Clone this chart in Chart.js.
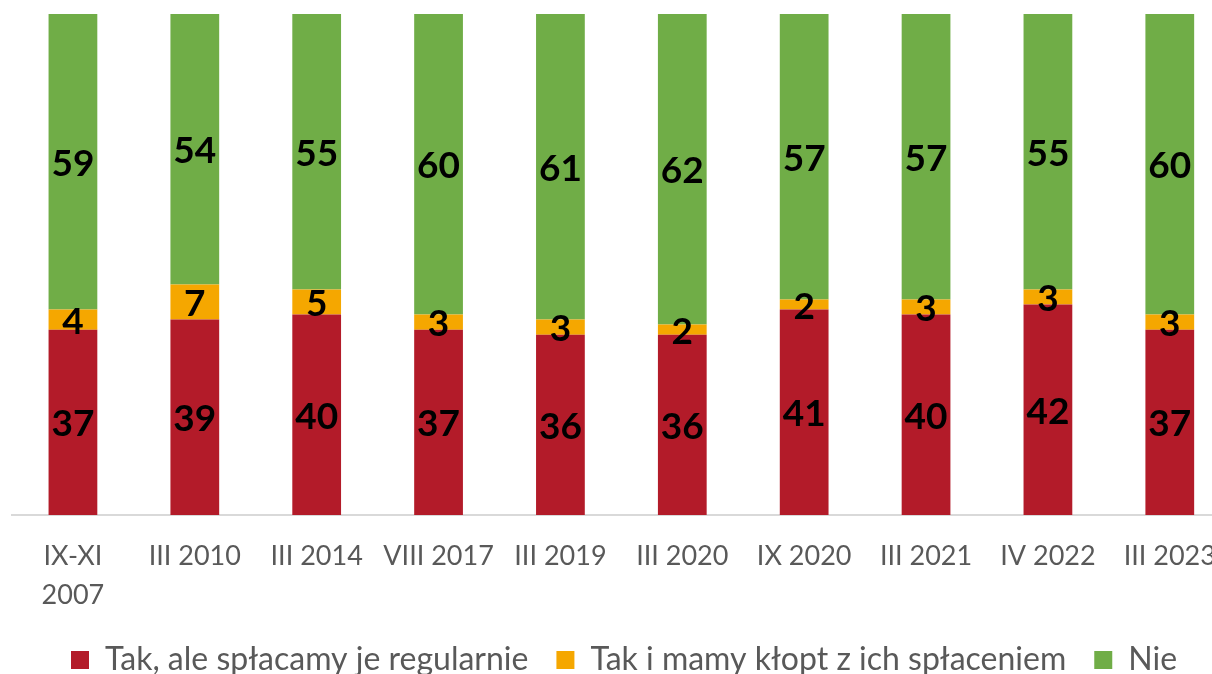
<!DOCTYPE html>
<html lang="pl">
<head>
<meta charset="utf-8">
<title>Kredyty i pożyczki</title>
<script src="https://cdn.jsdelivr.net/npm/chart.js@4.4.1/dist/chart.umd.min.js"></script>
<style>
  html, body { margin: 0; padding: 0; background: #fff; overflow: hidden; }
  #wrap { width: 1212px; height: 674px; overflow: hidden; }
</style>
</head>
<body>
<div id="wrap"><canvas id="kredytyChart" width="1238" height="686"></canvas></div>
<script>
// okresy badania (etykiety osi X)
const okresy = [
  ["IX-XI", "2007"], "III 2010", "III 2014", "VIII 2017", "III 2019",
  "III 2020", "IX 2020", "III 2021", "IV 2022", "III 2023"
];
// odpowiedzi w procentach
const takRegularnie = [37, 39, 40, 37, 36, 36, 41, 40, 42, 37];
const takKlopot = [4, 7, 5, 3, 3, 2, 2, 3, 3, 3];
const nie = [59, 54, 55, 60, 61, 62, 57, 57, 55, 60];

const nazwySerii = [
  "Tak, ale spłacamy je regularnie",
  "Tak i mamy kłopt z ich spłaceniem",
  "Nie"
];
const kolory = ["#b31b29", "#f5a700", "#70ad47"];

// wartości wypisane na środku każdego fragmentu słupka
const etykietyWartosci = {
  id: "etykietyWartosci",
  afterDatasetsDraw(chart) {
    const ctx = chart.ctx;
    ctx.save();
    ctx.font = "bold 37px Lato";
    ctx.fillStyle = "#000";
    ctx.textAlign = "center";
    ctx.textBaseline = "middle";
    chart.data.datasets.forEach((ds, i) => {
      const meta = chart.getDatasetMeta(i);
      meta.data.forEach((bar, j) => {
        const p = bar.getCenterPoint();
        ctx.fillText(ds.data[j], p.x, p.y + 2);
      });
    });
    ctx.restore();
  },
};

const ctx = document.getElementById("kredytyChart").getContext("2d");
new Chart(ctx, {
  type: "bar",
  data: {
    labels: okresy,
    datasets: [
      { label: nazwySerii[0], data: takRegularnie, backgroundColor: kolory[0] },
      { label: nazwySerii[1], data: takKlopot, backgroundColor: kolory[1] },
      { label: nazwySerii[2], data: nie, backgroundColor: kolory[2] },
    ],
  },
  options: {
    responsive: false,
    animation: false,
    categoryPercentage: 1,
    barPercentage: 0.4,
    layout: { padding: { top: 14, left: 12, right: 2, bottom: 0 } },
    scales: {
      x: {
        stacked: true,
        grid: { display: false, drawTicks: false },
        border: { display: true, color: "#d9d9d9", width: 2 },
        ticks: {
          color: "#595959",
          font: { family: "Lato", size: 27, lineHeight: 1.44 },
          padding: 22,
          maxRotation: 0,
          autoSkip: false,
        },
        // stała wysokość osi, żeby słupki kończyły się w tym samym miejscu
        afterFit(scale) {
          scale.height = 101;
        },
      },
      y: {
        stacked: true,
        display: false,
        min: 0,
        max: 100,
      },
    },
    plugins: {
      tooltip: { enabled: false },
      legend: {
        position: "bottom",
        labels: {
          color: "#595959",
          font: { family: "Lato", size: 32 },
          boxWidth: 18,
          boxHeight: 18,
          padding: 28,
        },
      },
    },
  },
  plugins: [etykietyWartosci],
});
</script>
</body>
</html>
